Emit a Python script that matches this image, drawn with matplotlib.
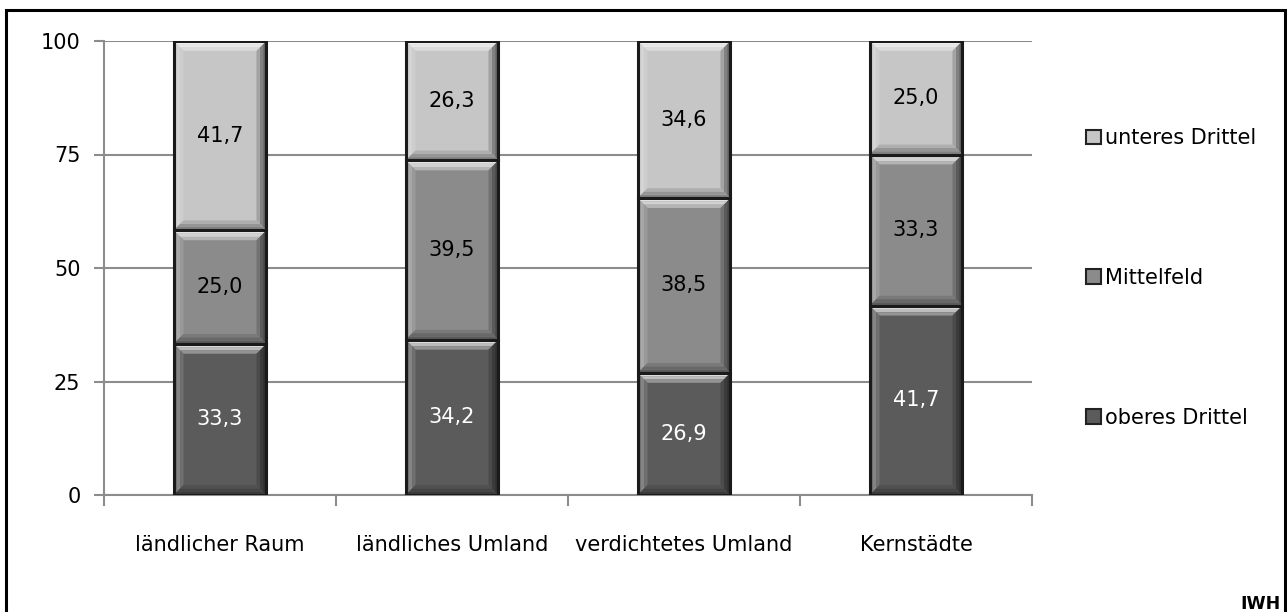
import matplotlib
matplotlib.use("Agg")
from matplotlib import pyplot as plt
from matplotlib.patches import Polygon, Rectangle
import numpy

# data
categories = ["ländlicher Raum", "ländliches Umland", "verdichtetes Umland", "Kernstädte"]
oberes = [33.3, 34.2, 26.9, 41.7]
mittel = [25.0, 39.5, 38.5, 33.3]
unteres = [41.7, 26.3, 34.6, 25.0]
series_names = ["oberes Drittel", "Mittelfeld", "unteres Drittel"]

face_colors = ["#5b5b5b", "#8b8b8b", "#c6c6c6"]
text_colors = ["white", "black", "black"]

plt.rcParams['font.family'] = ['DejaVu Sans']

W, H = 1287, 612
fig = plt.figure(figsize=(W / 100, H / 100), dpi=100)
ax = fig.add_axes([104 / W, 1 - 495 / H, (1032 - 104) / W, (495 - 41) / H])
ax.set_xlim(-0.5, len(categories) - 0.5)
ax.set_ylim(0, 100)

# pixel -> data scale for the bevel widths
px_x = (len(categories)) / (1032 - 104)
px_y = 100 / (495 - 41)


def shade(hexcol, f):
    c = numpy.array(matplotlib.colors.to_rgb(hexcol))
    if f > 0:
        c = c + (1 - c) * f
    else:
        c = c * (1 + f)
    return numpy.clip(c, 0, 1)


# shading per ring (outer -> inner) for top, left, right, bottom
BEVEL = {
    'top': [0.85, 0.6, 0.35],
    'left': [0.15, 0.25, 0.12],
    'right': [-0.5, -0.35, -0.18],
    'bottom': [-0.35, -0.25, -0.12],
}


def bevel(ax, patch, col, steps=3, dpx=3.3):
    """Draws an Excel-like bevel on top of one bar segment."""
    x0, y0 = patch.get_x(), patch.get_y()
    w, h = patch.get_width(), patch.get_height()
    x1, y1 = x0 + w, y0 + h
    for k in range(steps):
        ox, oy = k * dpx * px_x, k * dpx * px_y
        ix, iy = (k + 1) * dpx * px_x, (k + 1) * dpx * px_y
        a0, a1, b0, b1 = x0 + ox, x1 - ox, y0 + oy, y1 - oy
        c0, c1, d0, d1 = x0 + ix, x1 - ix, y0 + iy, y1 - iy
        sides = {
            'top': [(a0, b1), (a1, b1), (c1, d1), (c0, d1)],
            'left': [(a0, b0), (a0, b1), (c0, d1), (c0, d0)],
            'right': [(a1, b0), (a1, b1), (c1, d1), (c1, d0)],
            'bottom': [(a0, b0), (a1, b0), (c1, d0), (c0, d0)],
        }
        for side, pts in sides.items():
            ax.add_patch(Polygon(pts, closed=True, facecolor=shade(col, BEVEL[side][k]),
                                 edgecolor='none', zorder=3))
    ax.add_patch(Rectangle((x0, y0), w, h, facecolor='none',
                           edgecolor='#1a1a1a', linewidth=2.2, zorder=4))


x = numpy.arange(len(categories))
bottom = numpy.zeros(len(categories))
handles = []
for vals, name, fc, tc in zip([oberes, mittel, unteres], series_names, face_colors, text_colors):
    bars = ax.bar(x, vals, width=0.4, bottom=bottom, color=fc, edgecolor='none', zorder=2)
    for b, v in zip(bars, vals):
        bevel(ax, b, fc)
        ax.text(b.get_x() + b.get_width() / 2, b.get_y() + b.get_height() / 2,
                f"{v:.1f}".replace('.', ','), ha='center', va='center',
                fontsize=15, color=tc, zorder=5)
    handles.append(Rectangle((0, 0), 1, 1, facecolor=fc, edgecolor='#222222', linewidth=1.5))
    bottom = bottom + numpy.array(vals)

ax.set_yticks([0, 25, 50, 75, 100])
ax.yaxis.grid(True, color='#8c8c8c', linewidth=1.5, zorder=0)
ax.set_axisbelow(True)
for s in ['top', 'right']:
    ax.spines[s].set_visible(False)
for s in ['left', 'bottom']:
    ax.spines[s].set_color('#8c8c8c')
    ax.spines[s].set_linewidth(1.5)

ax.set_xticks(x)
ax.set_xticklabels(categories)
ax.set_xticks(numpy.arange(len(categories) + 1) - 0.5, minor=True)
ax.tick_params(axis='x', which='major', length=0, pad=28.5, labelsize=15)
ax.tick_params(axis='x', which='minor', length=8, width=1.5, color='#8c8c8c', direction='out')
ax.tick_params(axis='y', length=7, width=1.5, color='#8c8c8c', pad=10, labelsize=15)

leg = fig.legend(handles[::-1], series_names[::-1], loc='center left',
                 bbox_to_anchor=(1076 / W, 1 - 278 / H), frameon=False,
                 fontsize=15, labelspacing=5.75, handlelength=0.7,
                 handleheight=0.7, handletextpad=0.2, borderpad=0)

fig.text(1281 / W, 1 - 604 / H, "IWH", ha='right', va='center',
         fontsize=12.5, fontweight='bold')

# outer frame, bottom edge runs off the canvas
fig.patches.append(Rectangle((5.5 / W, -0.05), (1284.5 - 5.5) / W, 1 - 9.5 / H + 0.05,
                             transform=fig.transFigure, facecolor='none',
                             edgecolor='black', linewidth=2.2))

fig.savefig("out.png", dpi=100)
